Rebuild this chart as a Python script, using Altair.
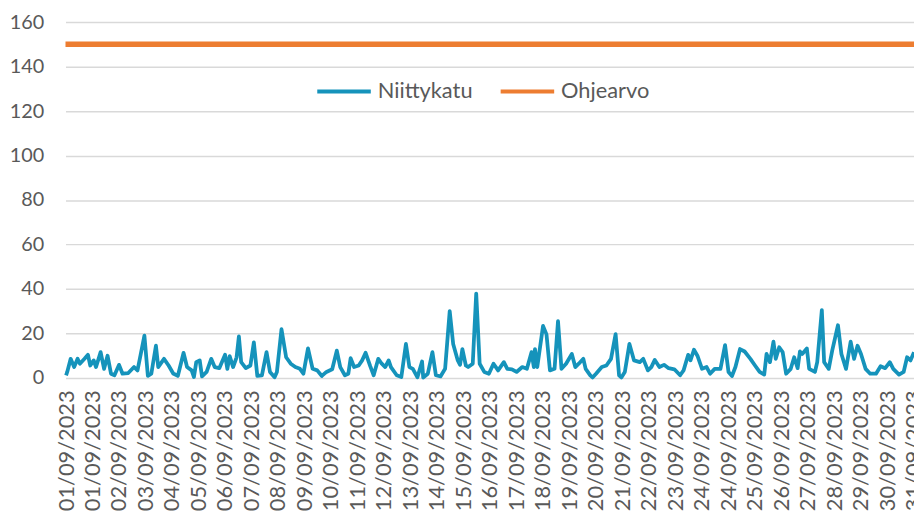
import json
import altair as alt
import pandas as pd

# ---- data -------------------------------------------------------------
series_names = ["Niittykatu", "Ohjearvo"]
series_colors = ["#1593bb", "#ed7d31"]

# hour index (from 01/09/2023 00:00) and measured value
hours = [0, 1, 4, 7, 10, 12, 16, 19, 21, 24, 26, 30, 33, 36, 39, 42, 46, 49, 54, 59,
         62, 64, 68, 71, 74, 78, 80, 85, 89, 93, 97, 102, 105, 109, 111, 113, 116, 118, 122, 126,
         129, 133, 138, 140, 142, 145, 148, 150, 152, 156, 160, 163, 166, 170, 174, 177, 181, 183, 187, 191,
         195, 199, 203, 206, 210, 214, 218, 222, 226, 231, 235,
         238, 242, 245, 247, 250, 254, 257, 260, 264, 267, 271, 274, 277, 280, 282, 287, 291, 295, 298,
         301, 305, 309, 310, 314, 318, 321, 325, 329, 333, 336, 340, 342, 344, 347, 349, 353, 356, 359, 363,
         367, 371, 375, 380, 383, 387, 391, 396, 400, 404, 406, 407, 409, 414, 417, 420, 424, 427, 430, 434,
         439, 442, 445, 449, 451, 455, 457, 460,
         465, 469, 473, 477, 480, 482, 485, 489, 491, 493, 498, 501, 505, 508, 511, 515, 519, 523, 528, 533,
         536, 540, 542, 545, 548, 552, 556, 559, 563, 568, 572, 575, 578, 581, 585, 589, 594, 598, 602, 606,
         608, 611, 614, 616, 619, 622, 625, 629, 632, 635, 637, 639, 643, 645, 650, 652, 656, 658, 662, 665,
         670, 673, 677, 681, 684, 687, 690, 694, 698, 703, 707, 711, 715, 718, 723, 727, 730, 733, 736]
values = [1.2, 2.7, 8.6, 4.9, 8.6, 6.4, 8.6, 10.4, 5.6, 7.9, 4.9, 11.6, 4.1, 10, 1.9, 1.2, 5.9, 1.9, 2.2, 4.9,
          3.4, 8.6, 19, 0.9, 1.9, 14.5, 4.9, 8.6, 5.6, 2, 0.9, 11.3, 4.9, 3.4, 0.4, 7.1, 7.9, 0.7, 2.7, 8.6,
          4.9, 4.4, 10.4, 4.1, 9.8, 4.9, 9.3, 18.7, 7.1, 4.4, 5.6, 16, 0.9, 1.2, 11.6, 2.7, 0.3, 2.7, 21.9, 9.3,
          6.4, 4.9, 4.1, 1.9, 13.3, 4.1, 3.4, 0.9, 2.7, 3.9, 12.3,
          4.9, 1.2, 1.9, 8.9, 4.9, 5.6, 7.9, 11.3, 5.3, 1.2, 8.6, 6.4, 4.9, 7.9, 4.9, 1.2, 0.4, 15.3, 4.9,
          4.1, 0.3, 7.4, 0.2, 1.9, 11.6, 1.2, 0.7, 4.1, 30, 15.3, 7.9, 5.9, 13, 5.6, 4.9, 6.4, 37.9, 6.4, 2.7,
          1.9, 6.4, 3.4, 7.1, 4.1, 3.9, 2.7, 4.9, 4.1, 11.6, 4.9, 13, 4.9, 23.4, 19.6, 3.4, 4.1, 25.6, 4.1, 6.4,
          10.8, 4.9, 6.4, 8.6, 4.1, 1.2, 0.2, 1.9,
          4.9, 5.6, 8.6, 19.7, 1.2, 0.2, 2.7, 15.3, 11.6, 7.9, 7.1, 8.6, 3.4, 4.9, 8.1, 4.9, 5.9, 4.4, 3.9, 1.2,
          3.4, 10.4, 7.9, 12.7, 10, 4.1, 4.9, 1.9, 4.1, 4.1, 14.8, 2.7, 0.9, 4.9, 13, 11.9, 8.6, 5.6, 2.7, 1.5,
          10.8, 7.1, 16.3, 8.6, 13.8, 11.6, 1.9, 4.1, 9.3, 4.4, 11.9, 10.8, 13.3, 4.1, 2.7, 7.1, 30.5, 7.1, 4.1, 12.3,
          23.7, 10.8, 4.1, 16.3, 8.6, 14.5, 10.8, 4.1, 1.9, 1.9, 5.3, 4.4, 7.1, 4.1, 1.5, 2.7, 9.3, 7.9, 11.6]
guide_value = 150

tick_hours = [0, 23, 46, 69, 92, 115, 138, 161, 184, 207, 230, 253, 276, 299, 322, 345, 368,
              391, 414, 437, 460, 483, 506, 529, 552, 575, 598, 621, 644, 667, 690, 713, 736]
tick_labels = ["01/09/2023", "01/09/2023", "02/09/2023", "03/09/2023", "04/09/2023", "05/09/2023",
               "06/09/2023", "07/09/2023", "08/09/2023", "09/09/2023", "10/09/2023", "11/09/2023",
               "12/09/2023", "13/09/2023", "14/09/2023", "15/09/2023", "16/09/2023", "17/09/2023",
               "18/09/2023", "19/09/2023", "20/09/2023", "21/09/2023", "22/09/2023", "23/09/2023",
               "24/09/2023", "24/09/2023", "25/09/2023", "26/09/2023", "27/09/2023", "28/09/2023",
               "29/09/2023", "30/09/2023", "31/09/2023"]
y_ticks = [0, 20, 40, 60, 80, 100, 120, 140, 160]

# ---- chart ------------------------------------------------------------
line_df = pd.DataFrame({"hour": hours, "value": values, "series": series_names[0]})
rule_df = pd.DataFrame({"value": [guide_value], "series": [series_names[1]]})

label_expr = f"{json.dumps(tick_labels)}[indexof({json.dumps(tick_hours)}, datum.value)]"

FONT = "Lato"
GREY = "#595959"

color = alt.Color(
    "series:N",
    scale=alt.Scale(domain=series_names, range=series_colors),
    legend=alt.Legend(
        title=None, orient="none", legendX=252, legendY=41, direction="horizontal",
        symbolType="stroke", symbolSize=2916, symbolStrokeWidth=4,
        labelFont=FONT, labelFontSize=22, labelColor=GREY, labelOffset=5,
        columnPadding=20,
    ),
)

y_enc = alt.Y(
    "value:Q",
    scale=alt.Scale(domain=[0, 160], nice=False, zero=True),
    axis=alt.Axis(values=y_ticks, title=None, grid=True, gridColor="#d9d9d9", gridWidth=1.5,
                  ticks=False, domain=False, labelFont=FONT, labelFontSize=20,
                  labelColor=GREY, labelPadding=22),
)

line = alt.Chart(line_df).mark_line(strokeWidth=3.8, strokeJoin="round").encode(
    x=alt.X("hour:Q",
            scale=alt.Scale(domain=[-0.5, 736], nice=False, zero=False),
            axis=alt.Axis(values=tick_hours, labelExpr=label_expr, title=None, grid=False,
                          ticks=False, domain=False, labelAngle=270, labelAlign="right",
                          labelBaseline="middle", labelFont=FONT, labelFontSize=22,
                          labelColor=GREY, labelPadding=12, labelOverlap=False,
                          labelFlush=False)),
    y=y_enc,
    color=color,
)

rule = alt.Chart(rule_df).mark_rule(strokeWidth=5.5).encode(
    y=alt.Y("value:Q"),
    color=color,
)

chart = alt.layer(rule, line).properties(
    width=856, height=359,
    autosize=alt.AutoSizeParams(type="none"),
    padding={"left": 58, "top": 12, "right": 0, "bottom": 132},
).configure_view(stroke=None)

chart.save("out.html", embed_options={"renderer": "svg", "actions": False})
